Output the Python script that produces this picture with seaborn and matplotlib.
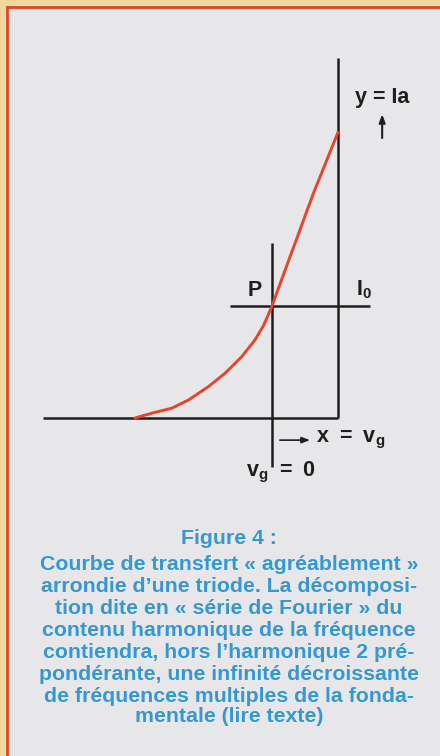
import matplotlib
matplotlib.use("Agg")
import matplotlib.pyplot as plt
import matplotlib.patches as mpatches
import seaborn as sns
import pandas as pd

# transfer curve of the triode (vg in arbitrary units, Ia in arbitrary units)
vg = [-4.03, -3.54, -2.95, -2.46, -1.87, -1.38, -0.89, -0.5, -0.25, 0.0, 0.3, 0.62, 1.21, 1.94]
ia = [0.0, 0.17, 0.35, 0.64, 1.12, 1.6, 2.19, 2.79, 3.3, 4.0, 5.0, 6.05, 8.0, 10.2]

# construction lines
base_vg = [-6.75, 1.94]       # horizontal Ia = 0 line
ia_axis_top = 12.86           # tall vertical line at vg max
vg0_span = [-1.75, 6.25]      # vertical line at vg = 0
i0 = 4.0                      # quiescent current
i0_span = [-1.24, 2.88]

caption = [
    "Figure 4 :",
    "Courbe de transfert « agréablement »",
    "arrondie d’une triode. La décomposi-",
    "tion dite en « série de Fourier » du",
    "contenu harmonique de la fréquence",
    "contiendra, hors l’harmonique 2 pré-",
    "pondérante, une infinité décroissante",
    "de fréquences multiples de la fonda-",
    "mentale (lire texte)",
]

sns.set_theme(style="white")
plt.rcParams["font.family"] = ["Liberation Sans", "DejaVu Sans"]
plt.rcParams["mathtext.fontset"] = "custom"
plt.rcParams["mathtext.bf"] = "Liberation Sans:bold"
plt.rcParams["mathtext.rm"] = "Liberation Sans:bold"

fig = plt.figure(figsize=(4.4, 7.56), dpi=100)
fig.patch.set_facecolor("#f0d8a0")
W, H = 440, 756
bg = mpatches.Rectangle((6.5 / W, -0.01), 1.1, 1 - 6.5 / H + 0.01,
                        transform=fig.transFigure, facecolor="#e7e7ea",
                        edgecolor="#e4432b", linewidth=2.0, zorder=-5)
fig.patches.append(bg)

ax = fig.add_axes([0, 0, 1, 1])
ax.set_zorder(2)
ax.set_facecolor("none")
ax.set_xlim(-272 / 34, 168 / 34)
ax.set_ylim((418 - 756) / 28, 418 / 28)
ax.axis("off")

dark = "#1e1e1e"
lw = 1.8
ax.plot(base_vg, [0, 0], color=dark, lw=lw, solid_capstyle="butt")
ax.plot([base_vg[1], base_vg[1]], [0, ia_axis_top], color=dark, lw=lw, solid_capstyle="butt")
ax.plot([0, 0], vg0_span, color=dark, lw=lw, solid_capstyle="butt")
ax.plot(i0_span, [i0, i0], color=dark, lw=lw, solid_capstyle="butt")

df = pd.DataFrame({"vg": vg, "ia": ia})
sns.lineplot(data=df, x="vg", y="ia", ax=ax, color="#e8432b", lw=2.1, sort=False,
             solid_joinstyle="round", solid_capstyle="round")

tk = dict(fontfamily="Liberation Sans", fontweight="bold", fontsize=15.5, color=dark)
ax.text(2.44, 11.46, "y = Ia", ha="left", va="center", **tk)
ax.annotate("", xy=(3.24, 10.95), xytext=(3.24, 9.9),
            arrowprops=dict(arrowstyle="-|>,head_width=0.15,head_length=0.4", color=dark, lw=1.5))
ax.text(-0.5, 4.57, "P", ha="center", va="center", **tk)
ax.text(2.47, 4.57, r"$\mathbf{I_0}$", ha="left", va="center", **tk)
ax.annotate("", xy=(1.2, -0.79), xytext=(0.15, -0.79),
            arrowprops=dict(arrowstyle="-|>,head_width=0.15,head_length=0.4", color=dark, lw=1.2))
ax.text(1.28, -0.79, r"$\mathbf{x\ =\ v_g}$", ha="left", va="center", **tk)
ax.text(0.27, -1.96, r"$\mathbf{v_g\ =\ 0}$", ha="center", va="center", **tk)

ys = [538, 565, 587, 609, 631, 653, 674, 696, 717]
for line, y in zip(caption, ys):
    fig.text(229 / W, 1 - y / H, line, ha="center", va="center", fontsize=15.3,
             fontweight="bold", color="#3598cf")

fig.savefig("out.png", dpi=100, facecolor=fig.get_facecolor())
